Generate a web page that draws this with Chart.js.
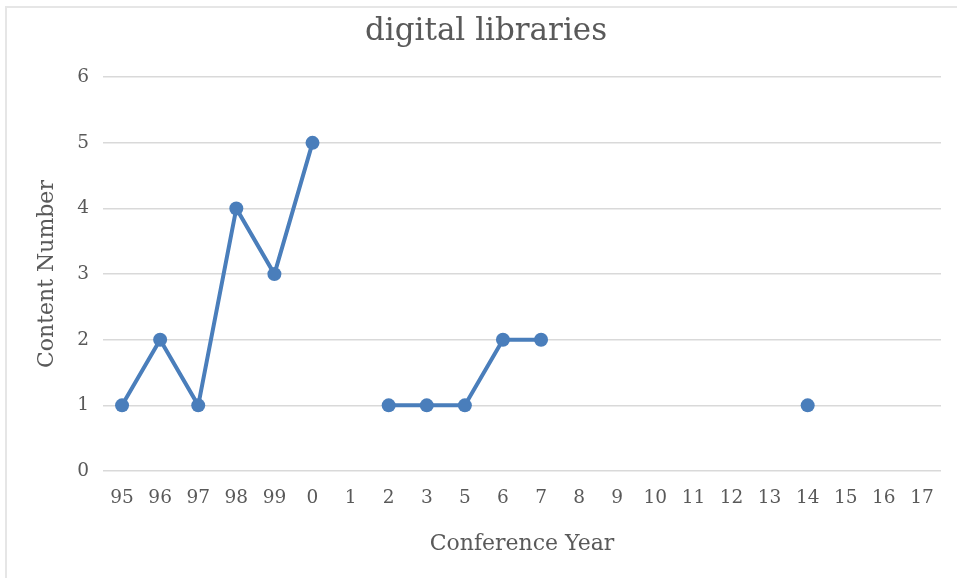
<!DOCTYPE html>
<html>
<head>
<meta charset="utf-8">
<script src="https://cdn.jsdelivr.net/npm/chart.js@4/dist/chart.umd.min.js"></script>
<style>
  html, body { margin: 0; padding: 0; background: #ffffff; }
  #wrap { position: relative; width: 957px; height: 578px; }
  #frame { position: absolute; left: 5px; top: 6px; width: 960px; height: 600px;
           border-left: 2px solid #e6e6e6; border-top: 2px solid #e6e6e6; box-sizing: border-box; }
  canvas { position: absolute; left: 0; top: 0; }
</style>
</head>
<body>
<div id="wrap">
  <div id="frame"></div>
  <canvas id="c" width="957" height="578"></canvas>
</div>
<script>
const titleText = 'digital libraries';
const xTitle = 'Conference Year';
const yTitle = 'Content Number';
const years = ['95','96','97','98','99','0','1','2','3','5','6','7','8','9','10','11','12','13','14','15','16','17'];
const contentNumber = [1, 2, 1, 4, 3, 5, null, 1, 1, 1, 2, 2, null, null, null, null, null, null, 1, null, null, null];
const yTicks = [0, 1, 2, 3, 4, 5, 6];

const FONT = "'DejaVu Serif', serif";
const GRAY = '#595959';

new Chart(document.getElementById('c'), {
  type: 'line',
  data: {
    labels: years,
    datasets: [{
      label: 'Content Number',
      data: contentNumber,
      borderColor: '#4a7ebb',
      backgroundColor: '#4a7ebb',
      borderWidth: 4,
      pointRadius: 7,
      pointHoverRadius: 7,
      pointBackgroundColor: '#4a7ebb',
      pointBorderWidth: 0,
      spanGaps: false,
      tension: 0
    }]
  },
  options: {
    responsive: false,
    animation: false,
    events: [],
    layout: { padding: { left: 31, right: 16, top: 0, bottom: 0 } },
    plugins: {
      legend: { display: false },
      tooltip: { enabled: false },
      title: {
        display: true,
        text: titleText,
        color: GRAY,
        font: { family: FONT, size: 31, weight: 'normal' },
        padding: { top: 13, bottom: 27 }
      }
    },
    scales: {
      x: {
        offset: true,
        grid: { display: false, drawTicks: false },
        border: { display: false },
        ticks: { color: GRAY, font: { family: FONT, size: 18.5 }, padding: 16, maxRotation: 0, autoSkip: false },
        title: { display: true, text: xTitle, color: GRAY, font: { family: FONT, size: 22 }, padding: { top: 0, bottom: 21 } },
        afterFit: s => { s.height = 107; }
      },
      y: {
        min: 0, max: 6,
        afterBuildTicks: s => { s.ticks = yTicks.map(v => ({ value: v })); },
        grid: { color: '#d9d9d9', lineWidth: 1.5, drawTicks: false },
        border: { display: false },
        ticks: { color: GRAY, font: { family: FONT, size: 18.5 }, padding: 14 },
        title: { display: true, text: yTitle, color: GRAY, font: { family: FONT, size: 22 }, padding: { top: 3, bottom: 0 } },
        afterFit: s => { s.width = 72; }
      }
    }
  }
});
</script>
</body>
</html>
